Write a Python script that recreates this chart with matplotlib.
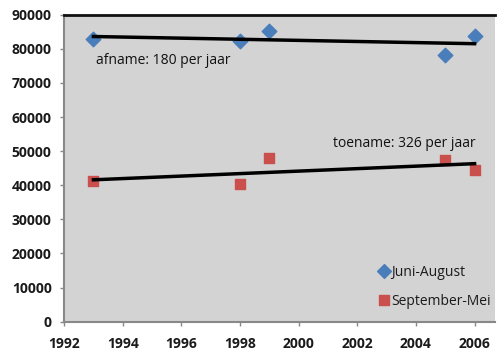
import numpy as np
import matplotlib.pyplot as plt

plt.rcParams['font.family'] = ['Open Sans', 'DejaVu Sans']

# data
jaren_zomer = [1993, 1998, 1999, 2005, 2006]
juni_augustus = [82800, 82300, 85200, 78200, 83700]
jaren_winter = [1993, 1998, 1999, 2005, 2006]
september_mei = [41200, 40300, 47900, 47300, 44400]
x_ticks = list(range(1992, 2007, 2))
y_ticks = list(range(0, 90001, 10000))

fig = plt.figure(figsize=(4.97, 3.56), dpi=100)
ax = fig.add_axes([0.129, 0.0963, 0.866, 0.8624])
ax.set_facecolor('#d3d3d3')

blauw = '#4a7ebb'
rood = '#c9504d'

ax.scatter(jaren_zomer, juni_augustus, marker='D', s=55, color=blauw, zorder=3, label='Juni-August')
ax.scatter(jaren_winter, september_mei, marker='s', s=50, color=rood, zorder=3, label='September-Mei')

# linear trend lines
for jaren, waarden in [(jaren_zomer, juni_augustus), (jaren_winter, september_mei)]:
    a, b = np.polyfit(jaren, waarden, 1)
    xs = np.array([min(jaren), max(jaren)])
    ax.plot(xs, a * xs + b, color='black', lw=2.5, zorder=4)

ax.text(1993.1, 76700, 'afname: 180 per jaar', fontsize=10, color='#111111', va='center')
ax.text(2006.02, 52100, 'toename: 326 per jaar', fontsize=10, color='#111111', ha='right', va='center')

ax.set_xlim(1992, 2006.68)
ax.set_ylim(0, 90000)
ax.set_xticks(x_ticks)
ax.set_yticks(y_ticks)
ax.tick_params(axis='both', colors='#888888', labelcolor='#1a1a1a', labelsize=10, length=3, width=1)
ax.tick_params(axis='x', pad=8)
ax.tick_params(axis='y', pad=6)
for lbl in ax.get_xticklabels() + ax.get_yticklabels():
    lbl.set_fontweight('bold')

ax.spines['top'].set_color('#111111')
ax.spines['top'].set_linewidth(2)
ax.spines['right'].set_visible(False)
ax.spines['left'].set_color('#888888')
ax.spines['left'].set_linewidth(1.5)
ax.spines['bottom'].set_color('#888888')
ax.spines['bottom'].set_linewidth(1.5)

leg = ax.legend(loc='lower right', bbox_to_anchor=(1.02, 0.0), frameon=False, fontsize=10,
                handletextpad=0.0, labelspacing=1.0, markerscale=0.95, handlelength=1.0,
                scatterpoints=1, scatteryoffsets=[0.5])
for t in leg.get_texts():
    t.set_color('#1a1a1a')

fig.savefig('out.png', dpi=100)
